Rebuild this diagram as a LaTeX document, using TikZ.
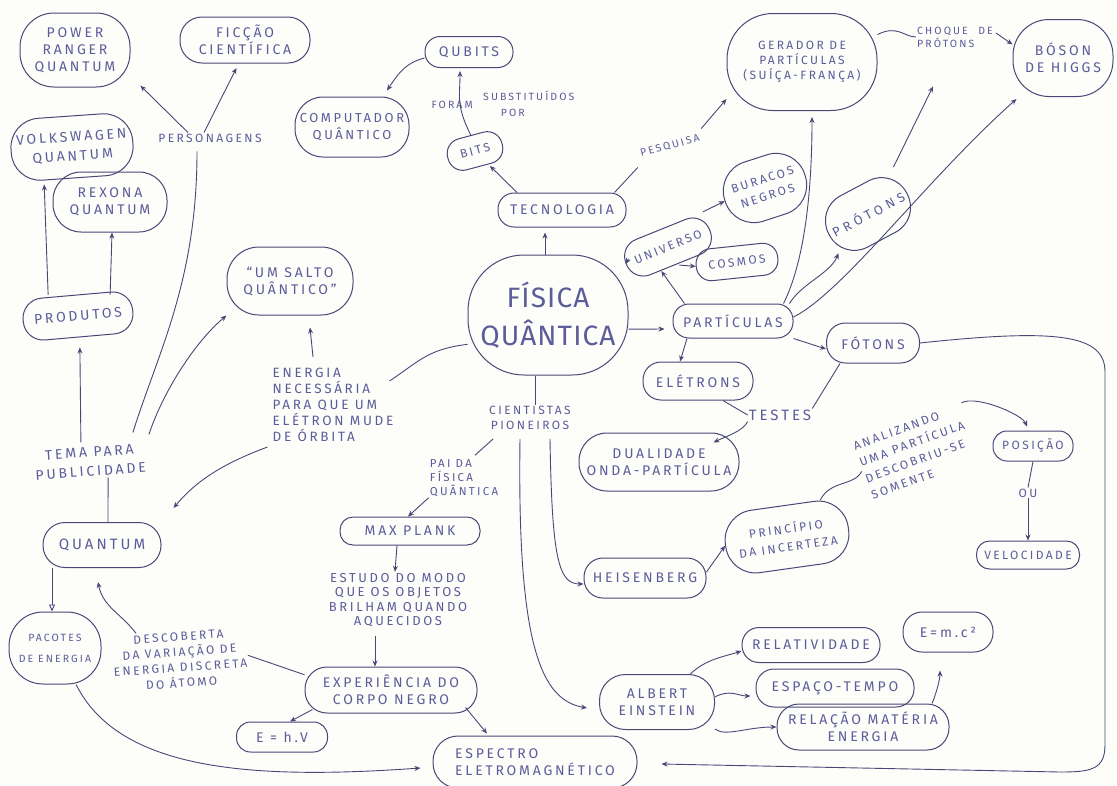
\documentclass[tikz,border=0pt]{standalone}
\usepackage{fontspec}
\setmainfont{Fira Sans}
\newfontfamily\hand{Fira Sans}[LetterSpace=20]
\newfontfamily\handwide{Fira Sans}[LetterSpace=32]
\newfontfamily\handbig{Fira Sans}[LetterSpace=4]
\usetikzlibrary{arrows.meta,shapes.misc}
\definecolor{ink}{RGB}{92,92,155}
\definecolor{ln}{RGB}{72,72,120}
\definecolor{paper}{RGB}{253,253,250}
\newcommand\fm{\hand\fontsize{14}{17}\selectfont}
\newcommand\fs{\hand\fontsize{12}{15}\selectfont}
\newcommand\fx{\hand\fontsize{10.5}{13}\selectfont}
\begin{document}
\begin{tikzpicture}[x=1pt,y=-1pt,
  bub/.style={draw=ln, line width=1pt, rounded corners=#1, align=center, text=ink, font=\fm, inner sep=2pt},
  bub/.default=14pt,
  lab/.style={text=ink, align=center, font=\fs, inner sep=1pt},
  con/.style={draw=ln, line width=0.9pt},
  arr/.style={con, -{Stealth[length=6pt,width=5pt]}},
  oarr/.style={con, -{Triangle[open,length=7pt,width=6pt]}}]
\fill[paper] (0,0) rectangle (1117,785);
\useasboundingbox (0,0) rectangle (1117,785);

% ---------- nodes ----------
\node[bub=34pt, minimum width=110pt, minimum height=74pt] (powr) at (75,50) {POWER\\RANGER\\QUANTUM};
\node[bub=22pt, minimum width=130pt, minimum height=46pt] (ficc) at (245,40) {FICÇÃO\\CIENTÍFICA};
\node[lab] (pers) at (210,138) {PERSONAGENS};
\node[bub=29pt, minimum width=122pt, minimum height=62pt, rotate=4, font=\hand\fontsize{14}{19}\selectfont] (volk) at (72,147) {VOLKSWAGEN\\QUANTUM};
\node[bub=28pt, minimum width=114pt, minimum height=60pt] (rexo) at (110,202) {REXONA\\QUANTUM};
\node[bub=20pt, minimum width=110pt, minimum height=42pt, rotate=5] (prod) at (78,316) {PRODUTOS};
\node[lab, font=\hand\fontsize{14}{19}\selectfont, rotate=4] (tema) at (90,462) {TEMA PARA\\PUBLICIDADE};
\node[bub=32pt, minimum width=126pt, minimum height=68pt] (salto) at (290,281) {“UM SALTO\\QUÂNTICO”};
\node[lab, align=left, font=\hand\fontsize{13.5}{16}\selectfont] (ener) at (333,405) {ENERGIA\\NECESSÁRIA\\PARA QUE UM\\ELÉTRON MUDE\\DE ÓRBITA};
\node[bub=22pt, minimum width=118pt, minimum height=45pt, font=\hand\fontsize{15}{17}\selectfont] (quan) at (102,545) {QUANTUM};
\node[bub=34pt, minimum width=92pt, minimum height=72pt, font=\fx] (paco) at (55,648) {PACOTES\\[8pt]DE ENERGIA};
\node[lab, rotate=4, font=\hand\fontsize{12}{15.5}\selectfont] (desc) at (180,660) {DESCOBERTA\\DA VARIAÇÃO DE\\ENERGIA DISCRETA\\DO ÁTOMO};

\node[bub=28pt, minimum width=114pt, minimum height=60pt, font=\hand\fontsize{13}{17}\selectfont] (comp) at (352,127) {COMPUTADOR\\QUÂNTICO};
\node[bub=15pt, minimum width=88pt, minimum height=31pt] (qubi) at (469,52) {QUBITS};
\node[lab, align=left, font=\fx] (subs) at (503,104) {\raisebox{-8pt}{FORAM}\quad SUBSTITUÍDOS\\\hspace*{6.6em}POR};
\node[bub=15pt, minimum width=56pt, minimum height=32pt, rotate=15, font=\fs] (bits) at (475,151) {BITS};
\node[bub=16pt, minimum width=128pt, minimum height=34pt] (tecn) at (562,210) {TECNOLOGIA};
\node[lab, rotate=15, font=\fx] (pesq) at (670,146) {PESQUISA};
\node[bub=46pt, minimum width=150pt, minimum height=97pt, font=\fs] (gera) at (802,62) {GERADOR DE\\PARTÍCULAS\\(SUÍÇA-FRANÇA)};
\node[lab, align=left, font=\fx] (choq) at (955,37) {CHOQUE\quad DE\\PRÓTONS};
\node[bub=36pt, minimum width=100pt, minimum height=77pt] (boso) at (1063,58) {BÓSON\\DE HIGGS};

\node[bub=56pt, minimum width=160pt, minimum height=120pt, font=\handbig\fontsize{28}{38}\selectfont] (fisi) at (548,315) {FÍSICA\\QUÂNTICA};
\node[bub=18pt, minimum width=90pt, minimum height=38pt, rotate=22, font=\fs] (univ) at (668,247) {UNIVERSO};
\node[bub=30pt, minimum width=84pt, minimum height=62pt, rotate=18, font=\hand\fontsize{12}{17}\selectfont] (bura) at (765,188) {BURACOS\\NEGROS};
\node[bub=15pt, minimum width=82pt, minimum height=32pt, rotate=6, font=\fs] (cosm) at (737,262) {COSMOS};
\node[bub=28pt, minimum width=88pt, minimum height=58pt, rotate=28, font=\handwide\fontsize{13}{15}\selectfont] (prot) at (868,214) {PRÓTONS};
\node[bub=16pt, minimum width=120pt, minimum height=34pt] (part) at (733,321) {PARTÍCULAS};
\node[bub=19pt, minimum width=93pt, minimum height=40pt] (foto) at (873,343) {FÓTONS};
\node[bub=18pt, minimum width=110pt, minimum height=38pt] (elet) at (698,381) {ELÉTRONS};
\node[lab, font=\hand\fontsize{15}{17}\selectfont] (test) at (780,415) {TESTES};
\node[lab] (cien) at (530,418) {CIENTISTAS\\PIONEIROS};
\node[bub=28pt, minimum width=160pt, minimum height=58pt] (dual) at (659,462) {DUALIDADE\\ONDA-PARTÍCULA};

\node[lab, align=left, font=\hand\fontsize{11.5}{14}\selectfont] (paid) at (464,478) {PAI DA\\FÍSICA\\QUÂNTICA};
\node[bub=13pt, minimum width=140pt, minimum height=28pt] (maxp) at (410,531) {MAX PLANK};
\node[lab, font=\hand\fontsize{13}{14.5}\selectfont] (estu) at (398,600) {ESTUDO DO MODO\\QUE OS OBJETOS\\BRILHAM QUANDO\\AQUECIDOS};
\node[bub=22pt, minimum width=172pt, minimum height=46pt] (expe) at (391,690) {EXPERIÊNCIA DO\\CORPO NEGRO};
\node[bub=14pt, minimum width=91pt, minimum height=30pt] (ehv) at (282,737) {E = h.V};
\node[bub=25pt, minimum width=204pt, minimum height=52pt, align=left] (espe) at (535,762) {ESPECTRO\\ELETROMAGNÉTICO};

\node[bub=19pt, minimum width=122pt, minimum height=40pt] (heis) at (645,578) {HEISENBERG};
\node[bub=30pt, minimum width=124pt, minimum height=63pt, rotate=8, font=\hand\fontsize{12}{18}\selectfont] (prin) at (787,537) {PRINCÍPIO\\DA INCERTEZA};
\node[lab, align=left, rotate=20, font=\hand\fontsize{12}{17.5}\selectfont] (anal) at (915,452) {ANALIZANDO\\UMA PARTÍCULA\\DESCOBRIU-SE\\SOMENTE};
\node[bub=14pt, minimum width=80pt, minimum height=30pt, font=\fs] (posi) at (1033,446) {POSIÇÃO};
\node[lab] (ou) at (1028,493) {OU};
\node[bub=13pt, minimum width=103pt, minimum height=28pt, font=\fs] (velo) at (1028,555) {VELOCIDADE};

\node[bub=26pt, minimum width=115pt, minimum height=55pt] (eins) at (657,702) {ALBERT\\EINSTEIN};
\node[bub=17pt, minimum width=138pt, minimum height=35pt] (rela) at (811,645) {RELATIVIDADE};
\node[bub=18pt, minimum width=158pt, minimum height=38pt] (espa) at (835,688) {ESPAÇO-TEMPO};
\node[bub=22pt, minimum width=172pt, minimum height=46pt] (rema) at (863,727) {RELAÇÃO MATÉRIA\\ENERGIA};
\node[bub=19pt, minimum width=90pt, minimum height=40pt] (emc) at (948,632) {E=m.c²};

% ---------- connectors ----------
\draw[arr, shorten >=14pt] ([xshift=-22pt]pers.north) -- (powr.-25);
\draw[arr, shorten >=5pt] ([xshift=-6pt]pers.north) -- (ficc.-105);
\draw[con] ([xshift=-13pt,yshift=-8pt]pers.south) .. controls +(0,130) and +(25,-80) .. ([xshift=44pt,yshift=14pt]tema.north);
\draw[arr] ([xshift=-8pt,yshift=4pt]tema.north) -- ([yshift=-10pt]prod.south);
\draw[arr] ([xshift=-28pt]prod.north) -- ([xshift=-30pt,yshift=-6pt]volk.south);
\draw[arr] ([xshift=34pt]prod.north) -- ([xshift=2pt]rexo.south);
\draw[arr] ([xshift=60pt,yshift=12pt]tema.north) .. controls +(15,-45) and +(-30,25) .. (salto.south west);
\draw[con] ([xshift=17pt]tema.south) -- ([xshift=6pt]quan.north);
\draw[arr] ([xshift=-20pt,yshift=10pt]ener.north) -- ([xshift=20pt,yshift=-12pt]salto.south);
\draw[con] (fisi.200) .. controls +(-40,5) and +(30,-20) .. ([xshift=-5pt,yshift=-14pt]ener.north east);
\draw[arr] ([xshift=-4pt,yshift=-4pt]ener.south west) .. controls +(-40,15) and +(25,-30) .. ([xshift=12pt,yshift=14pt]quan.north east);
\draw[oarr] ([xshift=-50pt]quan.south) -- ([xshift=-3pt]paco.north);
\draw[arr] ([xshift=-42pt,yshift=-2pt]desc.north) .. controls +(-15,-20) and +(5,25) .. ([xshift=-4pt,yshift=-14pt]quan.south);
\draw[con] (expe.170) -- (desc.east);
\draw[arr] (paco.-60) .. controls +(43,86) and +(-170,12) .. ([xshift=-12pt,yshift=-6pt]espe.west);
\draw[arr] (foto.east) .. controls (1060,328) and (1105,335) .. (1105,372) -- (1105,745) .. controls (1105,770) and (1090,772) .. (1060,772) -- ([xshift=24pt,yshift=-2pt]espe.east);

\draw[arr] ([xshift=-3pt]fisi.north) -- ([xshift=-17pt,yshift=-5pt]tecn.south);
\draw[arr, shorten >=2pt] ([xshift=-45pt]tecn.north) -- (bits.-60);
\draw[arr] (bits.north) .. controls +(-15,-30) and +(0,25) .. ([xshift=-9pt,yshift=-3pt]qubi.south);
\draw[arr] ([yshift=-6pt]qubi.west) .. controls +(-20,5) and +(10,-15) .. ([xshift=35pt,yshift=6pt]comp.north);
\draw[con] ([xshift=-12pt]tecn.north east) -- ([xshift=-3pt,yshift=-8pt]pesq.south west);
\draw[arr] ([xshift=2pt,yshift=4pt]pesq.north east) -- ([yshift=12pt]gera.south west);
\draw[con] (gera.20) .. controls +(20,-10) and +(-12,0) .. (choq.west);
\draw[arr] ([xshift=2pt,yshift=4pt]choq.east) -- (boso.165);
\draw[arr] (prot.north east) -- ([xshift=-22pt,yshift=-38pt]choq.south);
\draw[arr] ([yshift=4pt]part.east) .. controls +(50,-25) and +(-90,80) .. ([xshift=4pt,yshift=-2pt]boso.south west);
\draw[arr] ([xshift=-10pt]part.north east) .. controls +(20,-40) and +(0,80) .. ([xshift=10pt,yshift=-6pt]gera.south);
\draw[arr] ([xshift=-4pt]part.north east) .. controls +(12,-20) and +(-8,20) .. (prot.205);
\draw[arr] (fisi.35) -- (univ.west);
\draw[arr] (univ.north east) -- (bura.west);
\draw[arr] ([xshift=4pt]univ.south) -- (cosm.west);
\draw[arr] ([xshift=12pt]part.north west) -- ([xshift=-14pt,yshift=-6pt]univ.south);
\draw[arr] (fisi.-10) -- ([xshift=-8pt,yshift=-8pt]part.west);
\draw[arr] ([xshift=-46pt]part.south) -- ([xshift=-18pt]elet.north);
\draw[arr] (part.south east) -- ([yshift=-6pt]foto.west);
\draw[con] ([xshift=25pt]elet.south) -- (test.west);
\draw[con] ([xshift=14pt]foto.south west) -- (test.north east);
\draw[arr] (test.south west) .. controls +(-5,10) and +(12,-6) .. ([xshift=-26pt,yshift=-10pt]dual.north east);

\draw[con] ([xshift=-13pt]fisi.south) -- ([xshift=5pt]cien.north);
\draw[con] ([xshift=5pt,yshift=-8pt]cien.south west) -- ([xshift=11pt,yshift=3pt]paid.north);
\draw[arr] (paid.south west) -- ([xshift=-2pt]maxp.north);
\draw[arr] ([xshift=-13pt]maxp.south) -- ([xshift=-3pt]estu.north);
\draw[arr] ([xshift=-23pt,yshift=-8pt]estu.south) -- ([xshift=-16pt]expe.north);
\draw[arr] ([xshift=8pt,yshift=4pt]expe.south west) -- ([xshift=8pt]ehv.north);
\draw[arr] ([xshift=-12pt,yshift=6pt]expe.south east) -- ([xshift=-48pt,yshift=2pt]espe.north);
\draw[arr] ([xshift=20pt,yshift=-8pt]cien.south) .. controls +(2,120) and +(-25,0) .. ([yshift=-6pt]heis.west);
\draw[arr] ([xshift=-10pt,yshift=-8pt]cien.south) .. controls +(-3,210) and +(-45,-8) .. ([xshift=-12pt,yshift=-6pt]eins.west);
\draw[arr] ([yshift=6pt]heis.east) -- (prin.west);
\draw[con] (prin.40) .. controls +(10,-20) and +(-8,15) .. (anal.west);
\draw[arr] ([xshift=4pt]anal.north east) .. controls +(15,-8) and +(-5,-12) .. ([xshift=-6pt,yshift=4pt]posi.north);
\draw[con] (posi.south) -- (ou.north);
\draw[arr] (ou.south) -- (velo.north);
\draw[arr] (eins.40) .. controls +(15,-15) and +(-15,5) .. ([yshift=-6pt]rela.west);
\draw[arr] (eins.5) .. controls +(15,-8) and +(-12,0) .. ([xshift=-5pt,yshift=-8pt]espa.west);
\draw[arr] (eins.-25) .. controls +(10,8) and +(-30,0) .. (rema.west);
\draw[arr] ([xshift=69pt]rema.north) .. controls +(5,-12) and +(0,8) .. ([xshift=-8pt,yshift=-18pt]emc.south);
\end{tikzpicture}
\end{document}
